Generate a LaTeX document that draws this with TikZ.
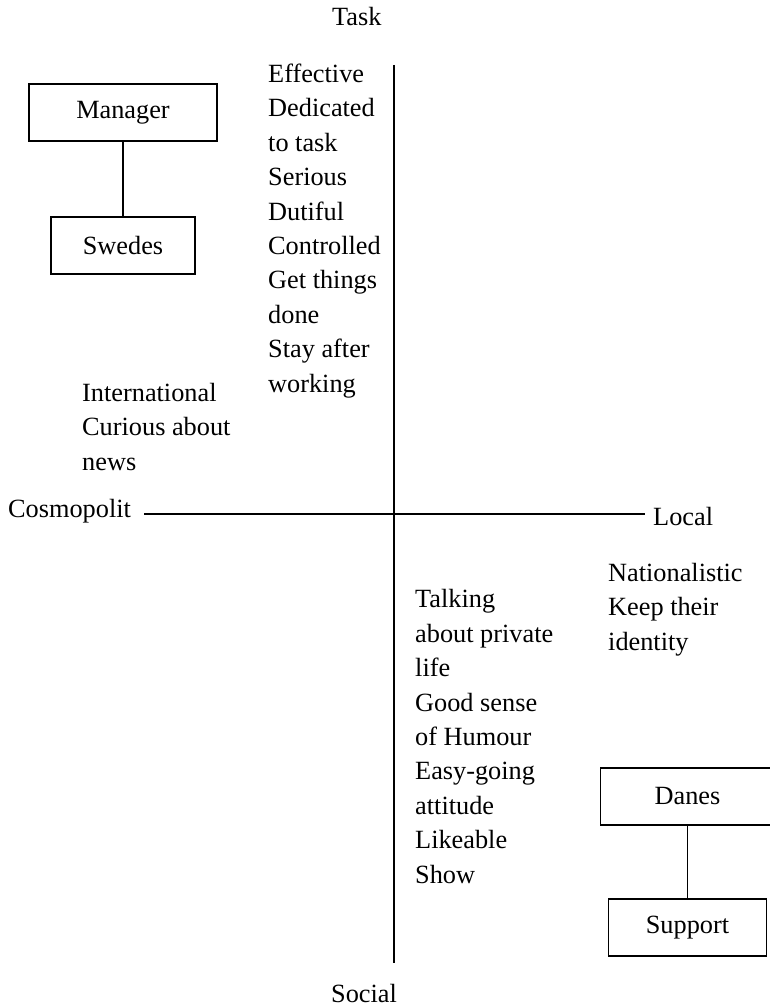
\documentclass[tikz,border=0pt]{standalone}
\usepackage{fontspec}
\setmainfont{Liberation Serif}
\begin{document}
\begin{tikzpicture}[x=1pt,y=-1pt,
  txt/.style={inner sep=0pt,anchor=base west,align=left,font=\fontsize{26.3}{34.4}\selectfont},
  role/.style={draw,line width=1.3pt,minimum height=57pt,inner sep=0pt,font=\fontsize{26.3}{34.4}\selectfont},
  axis/.style={line width=1.4pt},
  link/.style={line width=1.3pt}]
\useasboundingbox (0,0) rectangle (769,1006);
% axes
\coordinate (top) at (394,65);
\coordinate (bot) at (394,963);
\coordinate (lft) at (144,514);
\coordinate (rgt) at (645,514);
\draw[axis] (top) -- (bot);
\draw[axis] (lft) -- (rgt);
% axis labels
\node[txt] (task) at (332,26) {Task};
\node[txt] (social) at (331,1002) {Social};
\node[txt] (cosmo) at (8,517) {Cosmopolit};
\node[txt] (local) at (653,525) {Local};
% boxes
\node[role,minimum width=188pt] (manager) at (123,112.5) {Manager};
\node[role,minimum width=144pt] (swedes) at (123,245.5) {Swedes};
\node[role,minimum width=174pt] (danes) at (687.5,796.5) {Danes};
\node[role,minimum width=158pt] (support) at (687.5,927.5) {Support};
\draw[link] (manager.south) -- (swedes.north);
\draw[link] (danes.south) -- (support.north);
% quadrant texts (anchored at the baseline of their last line)
\node[txt] (tasktraits) at (268,392) {Effective\\Dedicated\\to task\\Serious\\Dutiful\\Controlled\\Get things\\done\\Stay after\\working};
\node[txt] (cosmotraits) at (82,470) {International\\Curious about\\news};
\node[txt] (localtraits) at (608,650) {Nationalistic\\Keep their\\identity};
\node[txt] (socialtraits) at (415,883) {Talking\\about private\\life\\Good sense\\of Humour\\Easy-going\\attitude\\Likeable\\Show};
\end{tikzpicture}
\end{document}
